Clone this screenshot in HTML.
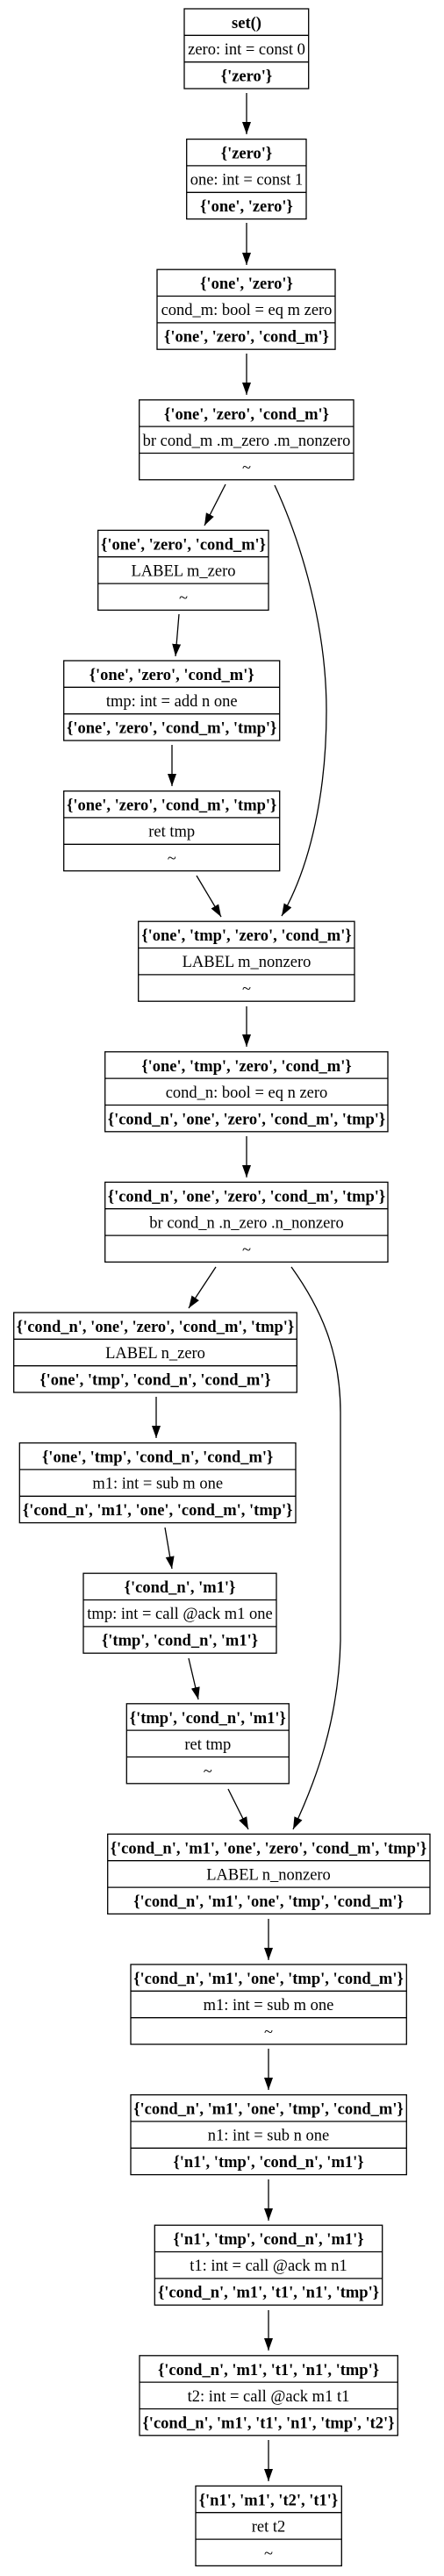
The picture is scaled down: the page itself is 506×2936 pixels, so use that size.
<!DOCTYPE html>
<html><head><meta charset="utf-8"><style>
html,body{margin:0;padding:0;background:#fff}
svg{display:block}
text{font-family:"Liberation Serif","Times New Roman",serif;font-size:18.5px;text-anchor:middle;fill:#000}
.b{font-weight:bold}
rect{fill:#fff;stroke:#000;stroke-width:1.3}
line.r{stroke:#000;stroke-width:1.3}
.e{stroke:#000;stroke-width:1.3;fill:none}
</style></head><body>
<svg width="506" height="2936" viewBox="0 0 506 2936" xmlns="http://www.w3.org/2000/svg">
<defs><marker id="a" markerUnits="userSpaceOnUse" markerWidth="15" markerHeight="11" refX="14" refY="5" orient="auto"><path d="M0,0 L14,5 L0,10 Z" fill="#000"/></marker></defs>

<!-- edges -->
<g class="e" marker-end="url(#a)">
<path class="e" marker-end="url(#a)" d="M281,106 L281,153"/>
<path class="e" marker-end="url(#a)" d="M281,254 L281,302"/>
<path class="e" marker-end="url(#a)" d="M281,403 L281,450"/>
<path class="e" marker-end="url(#a)" d="M257,552 L233,599"/>
<path class="e" marker-end="url(#a)" d="M313,553 C335,600 372,700 372,810 C372,900 355,985 321,1044"/>
<path class="e" marker-end="url(#a)" d="M204,700 L200,748"/>
<path class="e" marker-end="url(#a)" d="M196,849 L196,896"/>
<path class="e" marker-end="url(#a)" d="M224,998 L252,1045"/>
<path class="e" marker-end="url(#a)" d="M281,1147 L281,1193"/>
<path class="e" marker-end="url(#a)" d="M281,1295 L281,1342"/>
<path class="e" marker-end="url(#a)" d="M246,1444 L215,1491"/>
<path class="e" marker-end="url(#a)" d="M332,1444 C365,1490 388,1540 388,1610 L388,1870 C386,1960 360,2030 334,2085"/>
<path class="e" marker-end="url(#a)" d="M178,1592 L178,1639"/>
<path class="e" marker-end="url(#a)" d="M188,1741 L196,1788"/>
<path class="e" marker-end="url(#a)" d="M215,1890 L226,1937"/>
<path class="e" marker-end="url(#a)" d="M260,2039 L283,2085"/>
<path class="e" marker-end="url(#a)" d="M306,2187 L306,2234"/>
<path class="e" marker-end="url(#a)" d="M306,2335 L306,2382"/>
<path class="e" marker-end="url(#a)" d="M306,2484 L306,2531"/>
<path class="e" marker-end="url(#a)" d="M306,2633 L306,2679"/>
<path class="e" marker-end="url(#a)" d="M306,2781 L306,2828"/>
</g>

<!-- nodes -->
<g transform="translate(0,10)"><rect x="210" y="0" width="141.7" height="91"/><line class="r" x1="210" y1="30.3" x2="351.7" y2="30.3"/><line class="r" x1="210" y1="60.7" x2="351.7" y2="60.7"/>
<text class="b" x="281" y="22">set()</text><text x="281" y="52">zero: int = const 0</text><text class="b" x="281" y="82.5">{'zero'}</text></g>

<g transform="translate(0,158.6)"><rect x="212.7" y="0" width="136.3" height="91"/><line class="r" x1="212.7" y1="30.3" x2="349" y2="30.3"/><line class="r" x1="212.7" y1="60.7" x2="349" y2="60.7"/>
<text class="b" x="281" y="22">{'zero'}</text><text x="281" y="52">one: int = const 1</text><text class="b" x="281" y="82.5">{'one', 'zero'}</text></g>

<g transform="translate(0,307.2)"><rect x="179" y="0" width="203" height="91"/><line class="r" x1="179" y1="30.3" x2="382" y2="30.3"/><line class="r" x1="179" y1="60.7" x2="382" y2="60.7"/>
<text class="b" x="281" y="22">{'one', 'zero'}</text><text x="281" y="52">cond_m: bool = eq m zero</text><text class="b" x="281" y="82.5">{'one', 'zero', 'cond_m'}</text></g>

<g transform="translate(0,455.8)"><rect x="158.7" y="0" width="244.3" height="91"/><line class="r" x1="158.7" y1="30.3" x2="403" y2="30.3"/><line class="r" x1="158.7" y1="60.7" x2="403" y2="60.7"/>
<text class="b" x="281" y="22">{'one', 'zero', 'cond_m'}</text><text x="281" y="52">br cond_m .m_zero .m_nonzero</text><text x="281" y="82.5">~</text></g>

<g transform="translate(0,604.4)"><rect x="111.7" y="0" width="194.3" height="91"/><line class="r" x1="111.7" y1="30.3" x2="306" y2="30.3"/><line class="r" x1="111.7" y1="60.7" x2="306" y2="60.7"/>
<text class="b" x="209" y="22">{'one', 'zero', 'cond_m'}</text><text x="209" y="52">LABEL m_zero</text><text x="209" y="82.5">~</text></g>

<g transform="translate(0,753)"><rect x="72.7" y="0" width="246" height="91"/><line class="r" x1="72.7" y1="30.3" x2="318.7" y2="30.3"/><line class="r" x1="72.7" y1="60.7" x2="318.7" y2="60.7"/>
<text class="b" x="195.7" y="22">{'one', 'zero', 'cond_m'}</text><text x="195.7" y="52">tmp: int = add n one</text><text class="b" x="195.7" y="82.5">{'one', 'zero', 'cond_m', 'tmp'}</text></g>

<g transform="translate(0,901.6)"><rect x="72.7" y="0" width="246" height="91"/><line class="r" x1="72.7" y1="30.3" x2="318.7" y2="30.3"/><line class="r" x1="72.7" y1="60.7" x2="318.7" y2="60.7"/>
<text class="b" x="195.7" y="22">{'one', 'zero', 'cond_m', 'tmp'}</text><text x="195.7" y="52">ret tmp</text><text x="195.7" y="82.5">~</text></g>

<g transform="translate(0,1050.2)"><rect x="157.7" y="0" width="246.3" height="91"/><line class="r" x1="157.7" y1="30.3" x2="404" y2="30.3"/><line class="r" x1="157.7" y1="60.7" x2="404" y2="60.7"/>
<text class="b" x="281" y="22">{'one', 'tmp', 'zero', 'cond_m'}</text><text x="281" y="52">LABEL m_nonzero</text><text x="281" y="82.5">~</text></g>

<g transform="translate(0,1198.8)"><rect x="119.7" y="0" width="322.3" height="91"/><line class="r" x1="119.7" y1="30.3" x2="442" y2="30.3"/><line class="r" x1="119.7" y1="60.7" x2="442" y2="60.7"/>
<text class="b" x="281" y="22">{'one', 'tmp', 'zero', 'cond_m'}</text><text x="281" y="52">cond_n: bool = eq n zero</text><text class="b" x="281" y="82.5">{'cond_n', 'one', 'zero', 'cond_m', 'tmp'}</text></g>

<g transform="translate(0,1347.4)"><rect x="119.7" y="0" width="322.3" height="91"/><line class="r" x1="119.7" y1="30.3" x2="442" y2="30.3"/><line class="r" x1="119.7" y1="60.7" x2="442" y2="60.7"/>
<text class="b" x="281" y="22">{'cond_n', 'one', 'zero', 'cond_m', 'tmp'}</text><text x="281" y="52">br cond_n .n_zero .n_nonzero</text><text x="281" y="82.5">~</text></g>

<g transform="translate(0,1496)"><rect x="15.7" y="0" width="322.6" height="91"/><line class="r" x1="15.7" y1="30.3" x2="338.3" y2="30.3"/><line class="r" x1="15.7" y1="60.7" x2="338.3" y2="60.7"/>
<text class="b" x="177" y="22">{'cond_n', 'one', 'zero', 'cond_m', 'tmp'}</text><text x="177" y="52">LABEL n_zero</text><text class="b" x="177" y="82.5">{'one', 'tmp', 'cond_n', 'cond_m'}</text></g>

<g transform="translate(0,1644.6)"><rect x="22.3" y="0" width="314.7" height="91"/><line class="r" x1="22.3" y1="30.3" x2="337" y2="30.3"/><line class="r" x1="22.3" y1="60.7" x2="337" y2="60.7"/>
<text class="b" x="179.7" y="22">{'one', 'tmp', 'cond_n', 'cond_m'}</text><text x="179.7" y="52">m1: int = sub m one</text><text class="b" x="179.7" y="82.5">{'cond_n', 'm1', 'one', 'cond_m', 'tmp'}</text></g>

<g transform="translate(0,1793.2)"><rect x="95" y="0" width="220" height="91"/><line class="r" x1="95" y1="30.3" x2="315" y2="30.3"/><line class="r" x1="95" y1="60.7" x2="315" y2="60.7"/>
<text class="b" x="205" y="22">{'cond_n', 'm1'}</text><text x="205" y="52">tmp: int = call @ack m1 one</text><text class="b" x="205" y="82.5">{'tmp', 'cond_n', 'm1'}</text></g>

<g transform="translate(0,1941.8)"><rect x="144.3" y="0" width="185" height="91"/><line class="r" x1="144.3" y1="30.3" x2="329.3" y2="30.3"/><line class="r" x1="144.3" y1="60.7" x2="329.3" y2="60.7"/>
<text class="b" x="236.8" y="22">{'tmp', 'cond_n', 'm1'}</text><text x="236.8" y="52">ret tmp</text><text x="236.8" y="82.5">~</text></g>

<g transform="translate(0,2090.4)"><rect x="122.7" y="0" width="367.3" height="91"/><line class="r" x1="122.7" y1="30.3" x2="490" y2="30.3"/><line class="r" x1="122.7" y1="60.7" x2="490" y2="60.7"/>
<text class="b" x="306" y="22">{'cond_n', 'm1', 'one', 'zero', 'cond_m', 'tmp'}</text><text x="306" y="52">LABEL n_nonzero</text><text class="b" x="306" y="82.5">{'cond_n', 'm1', 'one', 'tmp', 'cond_m'}</text></g>

<g transform="translate(0,2239)"><rect x="149" y="0" width="314.3" height="91"/><line class="r" x1="149" y1="30.3" x2="463.3" y2="30.3"/><line class="r" x1="149" y1="60.7" x2="463.3" y2="60.7"/>
<text class="b" x="306" y="22">{'cond_n', 'm1', 'one', 'tmp', 'cond_m'}</text><text x="306" y="52">m1: int = sub m one</text><text x="306" y="82.5">~</text></g>

<g transform="translate(0,2387.6)"><rect x="149" y="0" width="314.3" height="91"/><line class="r" x1="149" y1="30.3" x2="463.3" y2="30.3"/><line class="r" x1="149" y1="60.7" x2="463.3" y2="60.7"/>
<text class="b" x="306" y="22">{'cond_n', 'm1', 'one', 'tmp', 'cond_m'}</text><text x="306" y="52">n1: int = sub n one</text><text class="b" x="306" y="82.5">{'n1', 'tmp', 'cond_n', 'm1'}</text></g>

<g transform="translate(0,2536.2)"><rect x="176.3" y="0" width="259.4" height="91"/><line class="r" x1="176.3" y1="30.3" x2="435.7" y2="30.3"/><line class="r" x1="176.3" y1="60.7" x2="435.7" y2="60.7"/>
<text class="b" x="306" y="22">{'n1', 'tmp', 'cond_n', 'm1'}</text><text x="306" y="52">t1: int = call @ack m n1</text><text class="b" x="306" y="82.5">{'cond_n', 'm1', 't1', 'n1', 'tmp'}</text></g>

<g transform="translate(0,2684.8)"><rect x="159" y="0" width="294.3" height="91"/><line class="r" x1="159" y1="30.3" x2="453.3" y2="30.3"/><line class="r" x1="159" y1="60.7" x2="453.3" y2="60.7"/>
<text class="b" x="306" y="22">{'cond_n', 'm1', 't1', 'n1', 'tmp'}</text><text x="306" y="52">t2: int = call @ack m1 t1</text><text class="b" x="306" y="82.5">{'cond_n', 'm1', 't1', 'n1', 'tmp', 't2'}</text></g>

<g transform="translate(0,2833.4)"><rect x="223" y="0" width="166.3" height="91"/><line class="r" x1="223" y1="30.3" x2="389.3" y2="30.3"/><line class="r" x1="223" y1="60.7" x2="389.3" y2="60.7"/>
<text class="b" x="306" y="22">{'n1', 'm1', 't2', 't1'}</text><text x="306" y="52">ret t2</text><text x="306" y="82.5">~</text></g>
</svg>
</body></html>
